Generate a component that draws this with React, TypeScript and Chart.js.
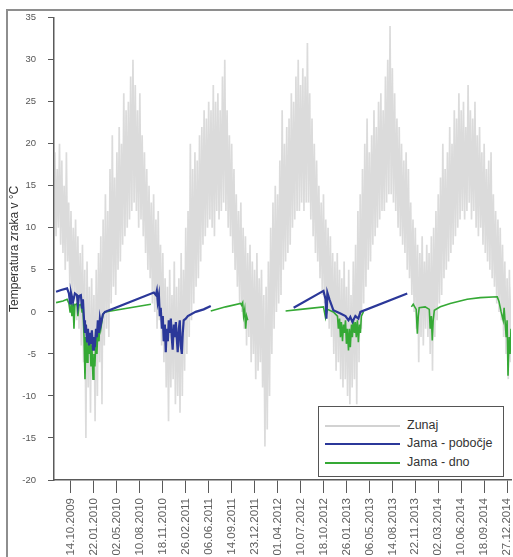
import React, { useEffect, useRef } from 'react';
import { Chart, registerables } from 'chart.js';

Chart.register(...registerables);

const FONT = '"Liberation Sans", Arial, sans-serif';

// x axis: days counted from 14.10.2009
const X_MIN = -74;
const X_MAX = 1917;

const tickDays = [0, 100, 200, 300, 400, 500, 600, 700, 800, 900, 1000, 1100, 1200, 1300, 1400, 1500, 1600, 1700, 1800, 1900];
const tickLabels = [
  '14.10.2009', '22.01.2010', '02.05.2010', '10.08.2010', '18.11.2010', '26.02.2011', '06.06.2011',
  '14.09.2011', '23.12.2011', '01.04.2012', '10.07.2012', '18.10.2012', '26.01.2013', '06.05.2013',
  '14.08.2013', '22.11.2013', '02.03.2014', '10.06.2014', '18.09.2014', '27.12.2014',
];

// Outside air (Zunaj): high / low every 10 days starting at day -70
const zunajStartDay = -70;
const zunajStep = 10;
const zunajHigh = [
  19, 17, 20, 18, 15, 19, 13, 12, 10, 11,
  9, 7, 8, 5, 6, 3, 4, 2, 5, 7,
  9, 11, 14, 12, 17, 21, 16, 19, 22, 20,
  26, 24, 25, 28, 30, 27, 24, 26, 21, 19,
  17, 15, 13, 14, 11, 12, 8, 7, 4, 3,
  5, 2, 6, 3, 4, 7, 5, 10, 12, 20,
  17, 19, 18, 21, 22, 24, 23, 25, 24, 27,
  25, 26, 24, 28, 30, 24, 21, 20, 17, 14,
  12, 13, 10, 9, 7, 8, 6, 5, 7, 4,
  5, 2, 3, 6, 10, 13, 15, 14, 18, 24,
  20, 22, 23, 26, 25, 28, 30, 27, 29, 28,
  32, 26, 23, 20, 18, 15, 13, 14, 11, 10,
  9, 7, 6, 7, 5, 4, 6, 3, 5, 2,
  6, 8, 12, 14, 17, 20, 23, 19, 21, 24,
  22, 25, 26, 24, 28, 30, 34, 29, 26, 23,
  22, 20, 18, 19, 17, 13, 11, 10, 8, 7,
  9, 6, 8, 7, 9, 10, 12, 14, 16, 20,
  17, 19, 22, 20, 24, 23, 26, 24, 25, 22,
  27, 24, 23, 25, 21, 22, 19, 20, 17, 18,
  19, 14, 12, 11, 10, 8, 6, 4, 5, 3,
];
const zunajLow = [
  9, 10, 8, 7, 5, 6, 3, 1, 2, -1,
  -2, -4, -6, -15, -9, -12, -8, -13, -10, -6,
  -11, -4, -2, -3, 1, 3, 2, 5, 6, 8,
  9, 10, 11, 12, 13, 12, 10, 11, 9, 7,
  5, 4, 1, 0, -2, -1, -4, -6, -9, -13,
  -9, -8, -11, -10, -12, -10, -7, -5, -3, -1,
  1, 3, 4, 6, 8, 9, 10, 11, 10, 9,
  12, 11, 12, 13, 12, 10, 9, 7, 5, 3,
  1, 0, -2, -4, -3, -6, -5, -8, -7, -6,
  -9, -16, -14, -10, -5, -2, 0, 1, 2, 5,
  6, 7, 8, 10, 11, 12, 12, 13, 12, 13,
  13, 11, 9, 7, 6, 4, 2, 1, 0, -2,
  -3, -5, -7, -6, -8, -9, -8, -10, -11, -9,
  -8, -11, -6, -2, 1, 3, 5, 6, 8, 9,
  10, 11, 12, 12, 13, 14, 14, 13, 12, 10,
  9, 8, 7, 5, 4, 2, 0, -2, -6, -3,
  -4, -2, -3, -5, -7, -3, -1, 1, 2, 4,
  5, 6, 7, 8, 9, 10, 11, 12, 11, 12,
  13, 11, 12, 10, 9, 10, 8, 7, 6, 5,
  4, 3, 1, 0, -1, -3, -5, -8, -6, -4,
];

// Cave slope (Jama - pobočje): [day, °C]; null = no data
const pobocje: [number, number | null][] = [
  [-65, 2.4], [-43, 2.6], [-17, 2.8], [-9, 2.2], [-4, 1.0], [0, 2.3], [9, 1.2], [17, 2.2], [26, 2.0], [30, 0.8],
  [35, 1.9], [43, 2.0], [48, 0.5], [52, 1.5], [57, -1.0], [61, -2.5], [65, -1.5], [70, -3.5], [74, -2.0], [78, -4.0],
  [83, -2.5], [87, -3.8], [91, -2.2], [96, -4.5], [100, -3.0], [104, -4.2], [109, -2.0], [113, -3.0], [117, -1.0], [122, -2.5],
  [126, -0.8], [130, -1.5], [139, -0.3], [148, 0.0], [361, 2.3], [370, 2.0], [374, 2.5], [378, 1.2], [383, 2.0], [387, -0.5],
  [391, 0.5], [396, -2.0], [400, -0.5], [404, -3.5], [409, -1.5], [413, -4.8], [417, -2.0], [422, -3.5], [426, -1.0], [430, -2.5],
  [435, -0.8], [439, -3.0], [443, -4.5], [448, -1.5], [452, -3.0], [457, -1.2], [461, -3.2], [465, -4.8], [470, -2.0], [474, -1.0],
  [478, -4.0], [483, -5.0], [487, -2.5], [491, -1.0], [500, -0.8], [509, -0.5], [543, 0.0], [578, 0.3], [609, 0.7], [800, null],
  [970, 0.5], [1100, 2.5], [1109, 1.5], [1113, -0.8], [1117, 2.3], [1126, 1.5], [1143, 0.2], [1174, -0.2], [1196, -0.5], [1209, -1.0],
  [1217, -0.6], [1226, -1.2], [1239, -0.5], [1252, -0.8], [1261, 0.0], [1465, 2.2],
];

// Cave bottom (Jama - dno): [day, °C]; null = no data
const dno: [number, number | null][] = [
  [-65, 1.1], [-35, 1.3], [-17, 1.5], [-9, 1.0], [-4, 0.0], [0, 1.2], [4, -0.5], [9, 1.0], [13, -2.0], [17, 0.8],
  [26, 1.0], [30, -0.5], [35, 0.8], [43, 0.9], [48, 0.0], [52, 0.5], [57, -3.0], [61, -8.0], [65, -3.0], [70, -6.0],
  [74, -2.5], [78, -5.0], [83, -3.5], [87, -6.5], [91, -4.0], [96, -8.0], [100, -5.0], [104, -6.5], [109, -3.0], [113, -5.0],
  [117, -2.0], [122, -3.5], [126, -1.0], [130, -2.0], [139, -0.3], [148, 0.0], [348, 0.9], [500, null],
  [609, 0.1], [674, 0.6], [739, 1.0], [743, 0.8], [748, 1.1], [752, -0.5], [757, 0.3], [761, -2.0], [765, -0.5], [770, -1.0], [850, null],
  [935, 0.1], [1000, 0.3], [1100, 0.6], [1109, -0.7], [1117, 0.3], [1143, 0.0], [1161, -0.5], [1165, -2.0], [1170, -0.8], [1174, -3.0],
  [1178, -1.2], [1183, -3.5], [1187, -1.5], [1191, -2.5], [1196, -1.0], [1200, -3.8], [1204, -2.0], [1209, -4.6], [1213, -2.0], [1217, -4.2],
  [1222, -1.5], [1226, -3.0], [1230, -1.0], [1235, -2.5], [1239, -1.2], [1243, -3.0], [1248, -1.0], [1252, -3.6], [1257, -1.5], [1261, -2.5],
  [1265, -0.5], [1274, 0.0], [1400, null],
  [1483, 0.6], [1491, 0.9], [1504, 0.3], [1509, -2.6], [1513, -0.5], [1517, 0.5], [1543, 0.6], [1561, 0.3], [1565, -2.0], [1570, -0.5],
  [1574, -3.4], [1578, -1.0], [1583, 0.2], [1609, 0.6], [1652, 1.0], [1726, 1.5], [1783, 1.7], [1857, 1.8], [1865, 1.2], [1874, 0.0],
  [1883, -1.0], [1887, 0.5], [1896, -3.0], [1900, -1.0], [1904, -7.6], [1909, -3.0], [1913, -5.0], [1917, -2.0],
];

const COLOR_ZUNAJ = 'rgba(170,170,170,0.42)';
const COLOR_POBOCJE = '#2b3899';
const COLOR_DNO = '#35a935';
const AXIS_COLOR = '#5a5a5a';

export default function App() {
  const canvasRef = useRef<HTMLCanvasElement | null>(null);

  useEffect(() => {
    if (!canvasRef.current) return;
    const zunaj: { x: number; y: number }[] = [];
    zunajHigh.forEach((h, i) => {
      const d = zunajStartDay + i * zunajStep;
      zunaj.push({ x: d, y: h });
      zunaj.push({ x: d + zunajStep / 2, y: zunajLow[i] });
    });

    const chart = new Chart(canvasRef.current, {
      type: 'line',
      data: {
        datasets: [
          {
            label: 'Jama - pobočje',
            data: pobocje.map(([x, y]) => ({ x, y })),
            borderColor: COLOR_POBOCJE,
            borderWidth: 2.2,
            pointRadius: 0,
            spanGaps: false,
            order: 1,
          },
          {
            label: 'Jama - dno',
            data: dno.map(([x, y]) => ({ x, y })),
            borderColor: COLOR_DNO,
            borderWidth: 1.6,
            pointRadius: 0,
            spanGaps: false,
            order: 2,
          },
          {
            label: 'Zunaj',
            data: zunaj,
            borderColor: COLOR_ZUNAJ,
            borderWidth: 1.7,
            pointRadius: 0,
            order: 3,
          },
        ],
      } as any,
      options: {
        responsive: false,
        animation: false,
        events: [],
        layout: { padding: { left: 0, top: 15, right: 2, bottom: 0 } },
        plugins: {
          legend: { display: false },
          tooltip: { enabled: false },
        },
        scales: {
          x: {
            type: 'linear',
            min: X_MIN,
            max: X_MAX,
            afterBuildTicks: (s: any) => {
              s.ticks = tickDays.map((v) => ({ value: v }));
            },
            afterFit: (s: any) => {
              s.height = 77;
              s.paddingLeft = 0;
              s.paddingRight = 0;
            },
            ticks: {
              autoSkip: false,
              minRotation: 90,
              maxRotation: 90,
              padding: 5,
              color: '#606060',
              font: { family: FONT, size: 11.5 },
              callback: (_v: any, i: number) => tickLabels[i] ?? '',
            },
            grid: { drawOnChartArea: false, tickLength: 13, color: AXIS_COLOR, tickColor: AXIS_COLOR, tickWidth: 1 },
            border: { color: AXIS_COLOR, width: 1.5 },
          },
          y: {
            min: -20,
            max: 35,
            afterFit: (s: any) => {
              s.width = 54;
            },
            ticks: {
              stepSize: 5,
              padding: 12,
              color: '#555',
              font: { family: FONT, size: 9.5 },
            },
            title: {
              display: true,
              text: 'Temperatura zraka v °C',
              color: '#333',
              font: { family: FONT, size: 12 },
              padding: { top: 7, bottom: 0 },
            },
            grid: { drawOnChartArea: false, tickLength: 6, color: AXIS_COLOR, tickColor: AXIS_COLOR },
            border: { color: AXIS_COLOR, width: 1.5 },
          },
        },
      } as any,
    });
    return () => chart.destroy();
  }, []);

  const legendItems = [
    { label: 'Zunaj', color: '#d2d2d2', width: 1.5 },
    { label: 'Jama - pobočje', color: COLOR_POBOCJE, width: 2 },
    { label: 'Jama - dno', color: COLOR_DNO, width: 2 },
  ];
  const rowTops = [19, 37, 56];

  return (
    <div style={{ position: 'fixed', left: 0, top: 0, width: 513, height: 557, background: '#fff', overflow: 'hidden' }}>
      <div style={{ position: 'absolute', left: 6, top: 9, width: 540, height: 580, border: '2px solid #8e8e8e' }} />
      <canvas ref={canvasRef} width={513} height={557} style={{ position: 'absolute', left: 0, top: 0 }} />
      <div
        style={{
          position: 'absolute', left: 318, top: 406, width: 186, height: 71, boxSizing: 'border-box',
          border: '1.5px solid #555', background: '#fff', fontFamily: FONT, fontSize: 12.5, color: '#333',
        }}
      >
        {legendItems.map((it, i) => (
          <React.Fragment key={it.label}>
            <div style={{ position: 'absolute', left: 6, top: rowTops[i] - it.width / 2, width: 75, height: it.width, background: it.color }} />
            <div style={{ position: 'absolute', left: 88, top: rowTops[i] - 8, lineHeight: '15px', whiteSpace: 'nowrap' }}>{it.label}</div>
          </React.Fragment>
        ))}
      </div>
    </div>
  );
}
